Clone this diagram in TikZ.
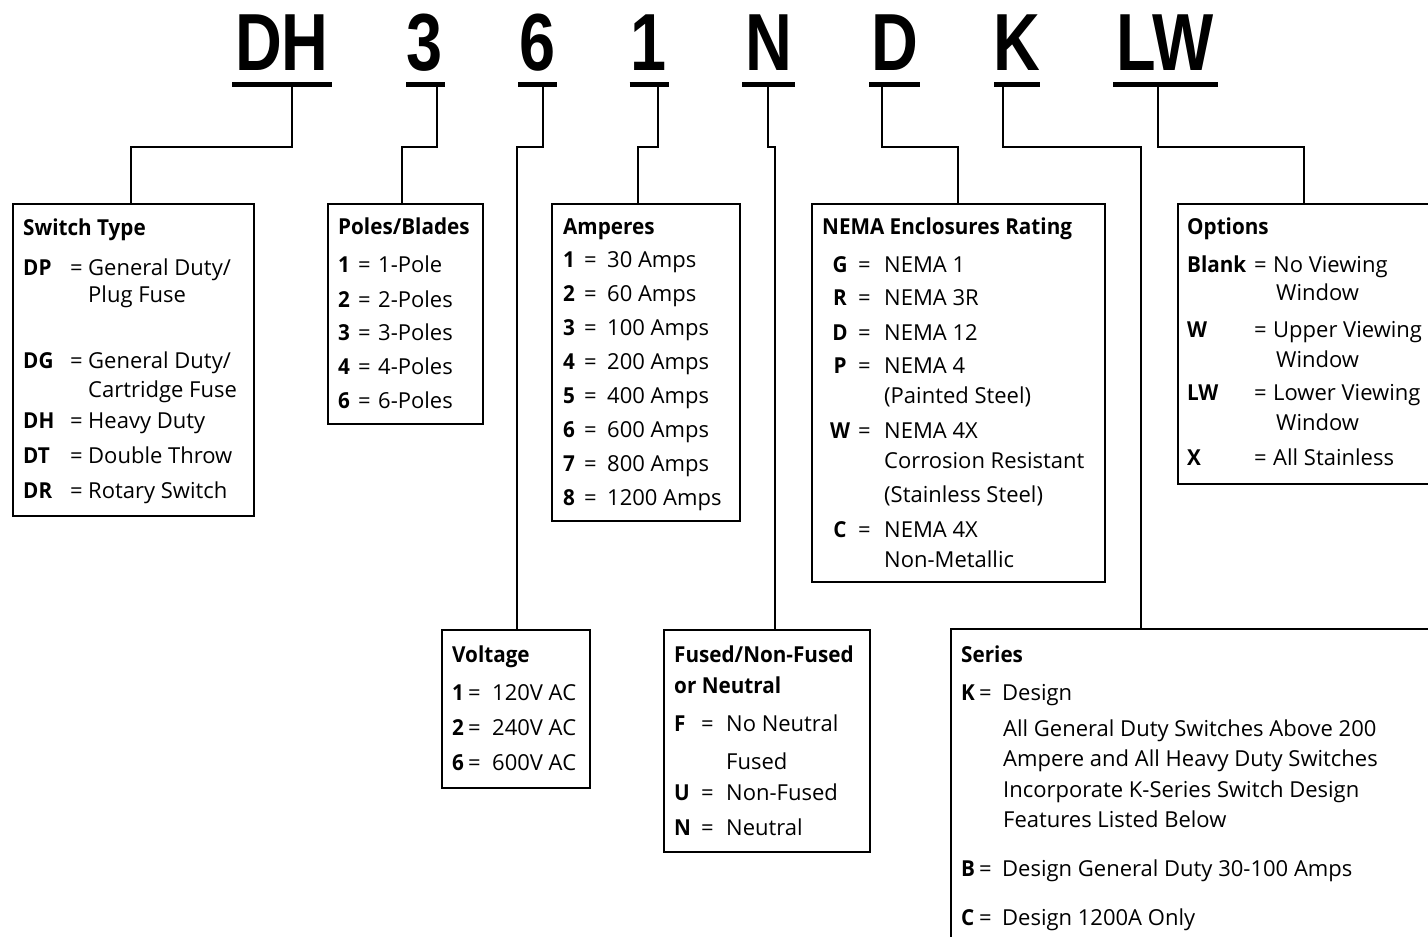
\documentclass[tikz,border=0pt]{standalone}
\usepackage{fontspec}
\setmainfont{Open Sans}[BoldFeatures={FakeStretch=0.94}]
\newfontfamily\codefont{Liberation Sans}
\newcommand\entry[7]{%
  \node[t] (#1l) at (#3,#2) {\textbf{#4}};
  \node[t] (#1e) at (#5,#2) {=};
  \node[t] (#1v) at (#6,#2) {#7};}
\newcommand\centry[7]{%
  \node[t, anchor=base] (#1l) at (#3,#2) {\textbf{#4}};
  \node[t] (#1e) at (#5,#2) {=};
  \node[t] (#1v) at (#6,#2) {#7};}
\begin{document}
\begin{tikzpicture}[x=1pt,y=-1pt,
  box/.style={draw, line width=2.4pt, rectangle, anchor=north west, inner sep=0pt},
  conn/.style={line width=2pt},
  code/.style={anchor=base, inner sep=0pt, font=\codefont\bfseries\fontsize{81}{81}\selectfont},
  uline/.style={line width=5pt},
  t/.style={anchor=base west, inner sep=0pt, font=\fontsize{22}{26}\selectfont},
]
\useasboundingbox (0,0) rectangle (1428,937);
\clip (0,0) rectangle (1428,937);

% code letters
\node[code] (cDH) at (282,70) {\scalebox{0.8}[1]{DH}};
\node[code] (c3) at (425,70) {\scalebox{0.8}[1]{3}};
\node[code] (c6) at (537.5,70) {\scalebox{0.8}[1]{6}};
\node[code] (c1) at (649,70) {\scalebox{0.8}[1]{1}};
\node[code] (cN) at (768.5,70) {\scalebox{0.8}[1]{N}};
\node[code] (cD) at (894.5,70) {\scalebox{0.8}[1]{D}};
\node[code] (cK) at (1016.5,70) {\scalebox{0.8}[1]{K}};
\node[code] (cLW) at (1165.5,70) {\scalebox{0.8}[1]{LW}};

% underlines
\draw[uline] (232,84.5) -- (332,84.5);
\draw[uline] (406,84.5) -- (445,84.5);
\draw[uline] (518,84.5) -- (557,84.5);
\draw[uline] (629.5,84.5) -- (668.5,84.5);
\draw[uline] (742,84.5) -- (795,84.5);
\draw[uline] (869,84.5) -- (920,84.5);
\draw[uline] (994,84.5) -- (1040,84.5);
\draw[uline] (1113,84.5) -- (1218,84.5);

% boxes
\node[box, minimum width=241pt, minimum height=312pt] (sw) at (12,203) {};
\node[box, minimum width=155pt, minimum height=220pt] (pb) at (327,203) {};
\node[box, minimum width=188pt, minimum height=317pt] (am) at (551,203) {};
\node[box, minimum width=293pt, minimum height=378pt] (ne) at (811,203) {};
\node[box, minimum width=280pt, minimum height=280pt] (op) at (1177,203) {};
\node[box, minimum width=148pt, minimum height=158pt] (vo) at (441,629) {};
\node[box, minimum width=206pt, minimum height=222pt] (fu) at (663,629) {};
\node[box, minimum width=540pt, minimum height=360pt] (se) at (950,628) {};

% connector points
\coordinate (hy) at (0,147);
\coordinate (kDH) at (292,86);
\coordinate (k3) at (437,86);
\coordinate (k6) at (543,86);
\coordinate (k1) at (658,86);
\coordinate (kN) at (768,86);
\coordinate (kD) at (882,86);
\coordinate (kK) at (1003,86);
\coordinate (kLW) at (1158,86);
\coordinate (tSW) at (131,203);
\coordinate (tPB) at (402,203);
\coordinate (tVO) at (517,629);
\coordinate (tAM) at (638,203);
\coordinate (tFU) at (775,629);
\coordinate (tNE) at (958,203);
\coordinate (tSE) at (1141,628);
\coordinate (tOP) at (1304,203);

\draw[conn] (kDH) -- (kDH |- hy) -| (tSW);
\draw[conn] (k3) -- (k3 |- hy) -| (tPB);
\draw[conn] (k6) -- (k6 |- hy) -| (tVO);
\draw[conn] (k1) -- (k1 |- hy) -| (tAM);
\draw[conn] (kN) -- (kN |- hy) -| (tFU);
\draw[conn] (kD) -- (kD |- hy) -| (tNE);
\draw[conn] (kK) -- (kK |- hy) -| (tSE);
\draw[conn] (kLW) -- (kLW |- hy) -| (tOP);

% Switch Type
\node[t] (swt) at (23,235) {\textbf{Switch Type}};
\entry{dp}{275}{23}{DP}{70}{88}{General Duty/}
\node[t] (dp2) at (88,302) {Plug Fuse};
\entry{dg}{368}{23}{DG}{70}{88}{General Duty/}
\node[t] (dg2) at (88,397) {Cartridge Fuse};
\entry{dh}{428}{23}{DH}{70}{88}{Heavy Duty}
\entry{dt}{463}{23}{DT}{70}{88}{Double Throw}
\entry{dr}{498}{23}{DR}{70}{88}{Rotary Switch}

% Poles/Blades
\node[t] (pbt) at (338,234) {\textbf{Poles/Blades}};
\entry{p1}{272}{338}{1}{358}{378}{1-Pole}
\entry{p2}{307}{338}{2}{358}{378}{2-Poles}
\entry{p3}{340}{338}{3}{358}{378}{3-Poles}
\entry{p4}{374}{338}{4}{358}{378}{4-Poles}
\entry{p6}{408}{338}{6}{358}{378}{6-Poles}

% Amperes
\node[t] (amt) at (563,234) {\textbf{Amperes}};
\entry{a1}{267}{563}{1}{584}{607}{30 Amps}
\entry{a2}{301}{563}{2}{584}{607}{60 Amps}
\entry{a3}{335}{563}{3}{584}{607}{100 Amps}
\entry{a4}{369}{563}{4}{584}{607}{200 Amps}
\entry{a5}{403}{563}{5}{584}{607}{400 Amps}
\entry{a6}{437}{563}{6}{584}{607}{600 Amps}
\entry{a7}{471}{563}{7}{584}{607}{800 Amps}
\entry{a8}{505}{563}{8}{584}{607}{1200 Amps}

% NEMA
\node[t] (net) at (822,234) {\textbf{NEMA Enclosures Rating}};
\centry{ng}{272}{840}{G}{858}{884}{NEMA 1}
\centry{nr}{305}{840}{R}{858}{884}{NEMA 3R}
\centry{nd}{340}{840}{D}{858}{884}{NEMA 12}
\centry{np}{373}{840}{P}{858}{884}{NEMA 4}
\node[t] (np2) at (884,403) {(Painted Steel)};
\centry{nw}{438}{840}{W}{858}{884}{NEMA 4X}
\node[t] (nw2) at (884,468) {Corrosion Resistant};
\node[t] (nw3) at (884,502) {(Stainless Steel)};
\centry{nc}{537}{840}{C}{858}{884}{NEMA 4X}
\node[t] (nc2) at (884,567) {Non-Metallic};

% Options
\node[t] (opt) at (1187,234) {\textbf{Options}};
\entry{ob}{272}{1187}{Blank}{1254}{1273}{No Viewing}
\node[t] (ob2) at (1276,300) {Window};
\entry{ow}{337}{1187}{W}{1254}{1273}{Upper Viewing}
\node[t] (ow2) at (1276,367) {Window};
\entry{ol}{400}{1187}{LW}{1254}{1273}{Lower Viewing}
\node[t] (ol2) at (1276,430) {Window};
\entry{ox}{465}{1187}{X}{1254}{1273}{All Stainless}

% Voltage
\node[t] (vot) at (452,662) {\textbf{Voltage}};
\entry{v1}{700}{452}{1}{468}{492}{120V AC}
\entry{v2}{735}{452}{2}{468}{492}{240V AC}
\entry{v6}{770}{452}{6}{468}{492}{600V AC}

% Fused
\node[t] (fut) at (674,662) {\textbf{Fused/Non-Fused}};
\node[t] (fut2) at (674,693) {\textbf{or Neutral}};
\entry{ff}{731}{674}{F}{701}{726}{No Neutral}
\node[t] (ff2) at (726,769) {Fused};
\entry{fu}{800}{674}{U}{701}{726}{Non-Fused}
\entry{fn}{835}{674}{N}{701}{726}{Neutral}

% Series
\node[t] (set) at (961,662) {\textbf{Series}};
\entry{sk}{700}{961}{K}{979}{1002}{Design}
\node[t] (sk2) at (1003,736) {All General Duty Switches Above 200};
\node[t] (sk3) at (1003,766) {Ampere and All Heavy Duty Switches};
\node[t] (sk4) at (1003,797) {Incorporate K-Series Switch Design};
\node[t] (sk5) at (1003,827) {Features Listed Below};
\entry{sb}{876}{961}{B}{979}{1002}{Design General Duty 30-100 Amps}
\entry{sc}{925}{961}{C}{979}{1002}{Design 1200A Only}
\end{tikzpicture}
\end{document}
